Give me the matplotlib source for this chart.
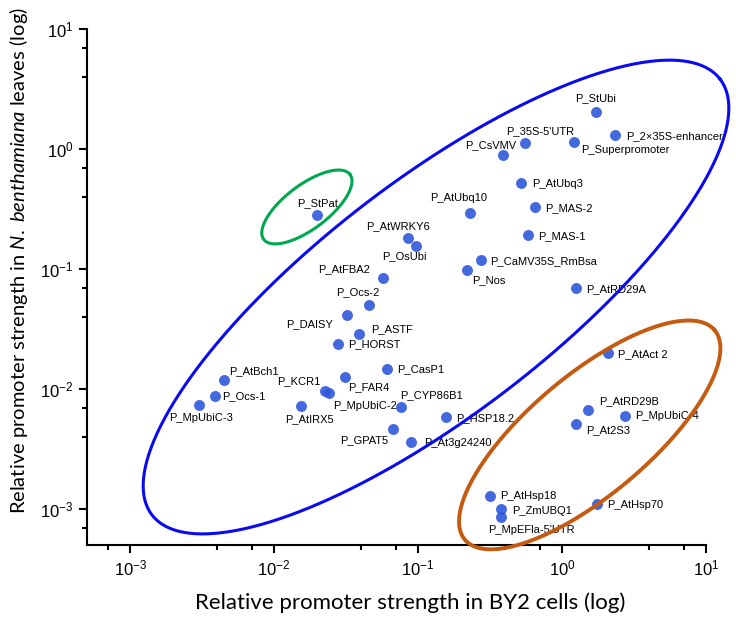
import numpy as np
import matplotlib
matplotlib.use("Agg")
import matplotlib.pyplot as plt
from matplotlib.ticker import LogLocator

plt.rcParams['mathtext.fontset'] = 'custom'
plt.rcParams['mathtext.rm'] = 'Lato'
plt.rcParams['mathtext.it'] = 'Lato:italic'

# promoter names and their relative strengths (BY2 cells, N. benthamiana leaves)
names = ["P_StUbi", "P_2\u00d735S-enhancer", "P_Superpromoter", "P_35S-5'UTR", "P_CsVMV",
         "P_AtUbq3", "P_MAS-2", "P_MAS-1", "P_CaMV35S_RmBsa", "P_Nos", "P_AtRD29A",
         "P_AtUbq10", "P_StPat", "P_AtWRKY6", "P_OsUbi", "P_AtFBA2", "P_Ocs-2",
         "P_DAISY", "P_ASTF", "P_HORST", "P_CasP1", "P_FAR4", "P_KCR1", "P_MpUbiC-2",
         "P_AtBch1", "P_Ocs-1", "P_MpUbiC-3", "P_AtIRX5", "P_CYP86B1", "P_GPAT5",
         "P_At3g24240", "P_HSP18.2", "P_AtAct 2", "P_AtRD29B", "P_MpUbiC-4", "P_At2S3",
         "P_AtHsp18", "P_ZmUBQ1", "P_MpEFla-5'UTR", "P_AtHsp70"]
by2 = [1.72, 2.33, 1.21, 0.553, 0.389,
       0.52, 0.65, 0.58, 0.274, 0.219, 1.25,
       0.23, 0.0199, 0.0853, 0.0968, 0.0571, 0.0457,
       0.0321, 0.0389, 0.0278, 0.061, 0.0311, 0.0226, 0.0241,
       0.0045, 0.0039, 0.00301, 0.0154, 0.0762, 0.067,
       0.0894, 0.156, 2.09, 1.52, 2.74, 1.25,
       0.316, 0.377, 0.377, 1.75]
nbenth = [2.03, 1.31, 1.14, 1.12, 0.89,
          0.52, 0.329, 0.192, 0.119, 0.098, 0.0695,
          0.293, 0.282, 0.181, 0.155, 0.0841, 0.0501,
          0.0414, 0.0287, 0.0237, 0.0147, 0.0126, 0.0096, 0.0093,
          0.0119, 0.00875, 0.00736, 0.00722, 0.00708, 0.00464,
          0.00362, 0.00585, 0.020, 0.00668, 0.00596, 0.00512,
          0.00128, 0.0010, 0.000858, 0.0011]

# where each label sits relative to its dot: pixels right, pixels down, alignment
label_pos = {
    "P_StUbi": (0, -14, 'center'), "P_2\u00d735S-enhancer": (11, 1, 'left'),
    "P_Superpromoter": (7, 8, 'left'), "P_35S-5'UTR": (15, -12, 'center'),
    "P_CsVMV": (-12, -10, 'center'), "P_AtUbq3": (11, 1, 'left'),
    "P_MAS-2": (10, 1, 'left'), "P_MAS-1": (10, 1, 'left'),
    "P_CaMV35S_RmBsa": (9, 1, 'left'), "P_Nos": (5, 10, 'left'),
    "P_AtRD29A": (10, 1, 'left'), "P_AtUbq10": (-11, -15, 'center'),
    "P_StPat": (0, -12, 'center'), "P_AtWRKY6": (-10, -12, 'center'),
    "P_OsUbi": (-12, 10, 'center'), "P_AtFBA2": (-13, -9, 'right'),
    "P_Ocs-2": (-11, -13, 'center'), "P_DAISY": (-14, 9, 'right'),
    "P_ASTF": (12, -5, 'left'), "P_HORST": (10, 0, 'left'),
    "P_CasP1": (10, 0, 'left'), "P_FAR4": (3, 10, 'left'),
    "P_KCR1": (-5, -10, 'right'), "P_MpUbiC-2": (4, 13, 'left'),
    "P_AtBch1": (5, -9, 'left'), "P_Ocs-1": (7, 0, 'left'),
    "P_MpUbiC-3": (2, 13, 'center'), "P_AtIRX5": (8, 13, 'center'),
    "P_CYP86B1": (-1, -12, 'left'), "P_GPAT5": (-5, 11, 'right'),
    "P_At3g24240": (13, 1, 'left'), "P_HSP18.2": (10, 1, 'left'),
    "P_AtAct 2": (10, 1, 'left'), "P_AtRD29B": (11, -9, 'left'),
    "P_MpUbiC-4": (10, 0, 'left'), "P_At2S3": (10, 6, 'left'),
    "P_AtHsp18": (10, 0, 'left'), "P_ZmUBQ1": (11, 2, 'left'),
    "P_MpEFla-5'UTR": (-13, 13, 'left'), "P_AtHsp70": (10, 1, 'left'),
}

# group outlines: centre (BY2, N. benth), half axes in pixels, tilt (deg), colour, width
groups = [
    ((0.1334, 0.0584), 358, 117, 37.5, '#0A0AF0', 2.2),
    ((0.0169, 0.329), 54, 22, 37, '#00A850', 2.2),
    ((1.56, 0.00414), 163, 60, 40, '#C55A11', 2.8),
]

xlim = (5e-4, 10)
ylim = (5e-4, 10)

fig = plt.figure(figsize=(7.36, 6.19), dpi=100)
fig.subplots_adjust(left=0.118, right=0.959, top=0.953, bottom=0.1195)
ax = fig.add_subplot(111)
ax.set_xscale('log')
ax.set_yscale('log')
ax.set_xlim(*xlim)
ax.set_ylim(*ylim)

ax.scatter(by2, nbenth, s=62, color='#2F58DA', alpha=0.9, linewidths=0, zorder=3)

for name, x, y in zip(names, by2, nbenth):
    dx, dy, ha = label_pos[name]
    ax.annotate(name, (x, y), xytext=(dx, -dy), textcoords='offset pixels',
                ha=ha, va='center', fontsize=8, family='Liberation Sans', zorder=4)

# pixels per decade, so the outlines come out as true ellipses on screen
pos = ax.get_position()
ppd_x = fig.get_figwidth() * fig.dpi * pos.width / np.log10(xlim[1] / xlim[0])
ppd_y = fig.get_figheight() * fig.dpi * pos.height / np.log10(ylim[1] / ylim[0])
t = np.linspace(0, 2 * np.pi, 500)
for (cx, cy), a, b, ang, col, lw in groups:
    th = np.radians(ang)
    px = a * np.cos(t) * np.cos(th) - b * np.sin(t) * np.sin(th)
    py = a * np.cos(t) * np.sin(th) + b * np.sin(t) * np.cos(th)
    ax.plot(cx * 10 ** (px / ppd_x), cy * 10 ** (py / ppd_y), color=col, lw=lw,
            zorder=5, clip_on=False)

for side in ['top', 'right']:
    ax.spines[side].set_visible(False)
for side in ['left', 'bottom']:
    ax.spines[side].set_linewidth(1.5)

ax.xaxis.set_major_locator(LogLocator(base=10, numticks=12))
ax.yaxis.set_major_locator(LogLocator(base=10, numticks=12))
ax.xaxis.set_minor_locator(LogLocator(base=10, subs=(4, 7), numticks=12))
ax.yaxis.set_minor_locator(LogLocator(base=10, subs=(4, 7), numticks=12))
ax.tick_params(which='major', length=6, width=1.5, labelsize=12, labelfontfamily='Liberation Sans')
ax.tick_params(which='minor', length=3.6, width=1.5)

ax.set_xlabel('Relative promoter strength in BY2 cells (log)', fontsize=16, family='Lato')
ax.set_ylabel(r'Relative promoter strength in $\mathit{N.\ benthamiana}$ leaves (log)',
              fontsize=14.5, family='Lato')
ax.xaxis.set_label_coords(0.522, -0.112)
ax.yaxis.set_label_coords(-0.111, 0.552)
ax.xaxis.label.set_va('center')
ax.yaxis.label.set_va('center')

plt.savefig('out.png', dpi=100)
